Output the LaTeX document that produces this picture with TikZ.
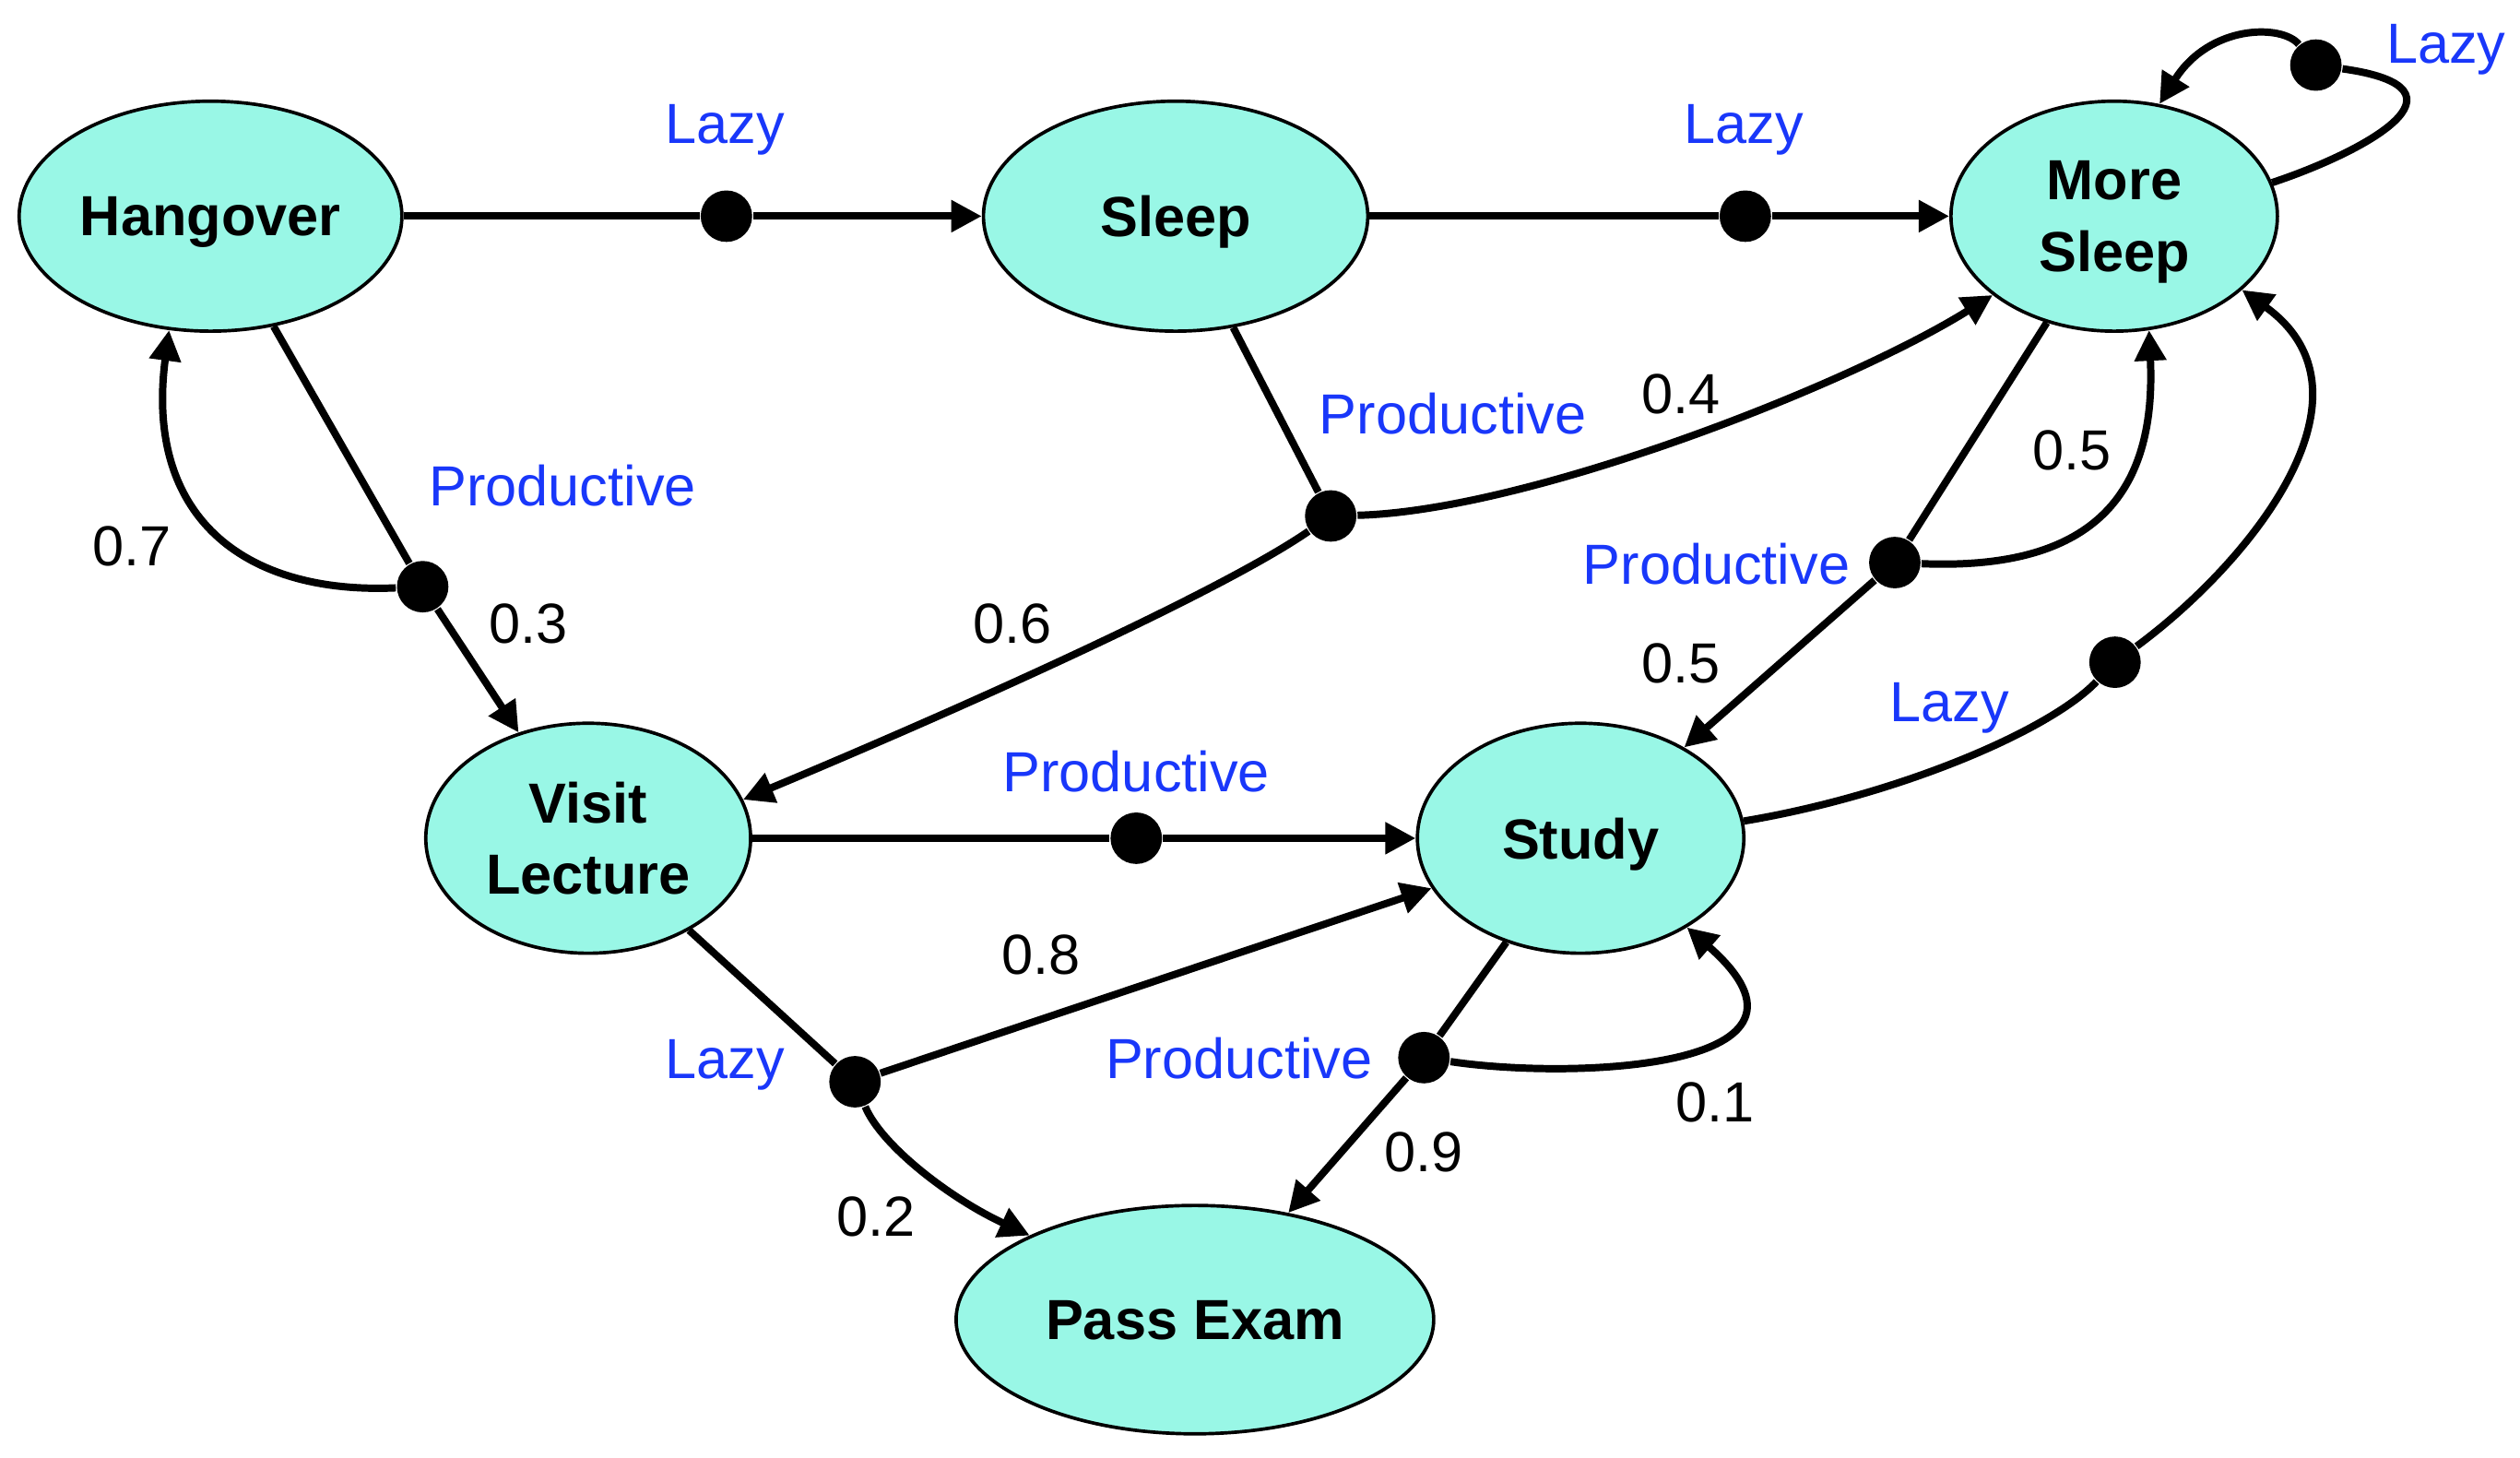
\documentclass[tikz,border=0pt]{standalone}
\usepackage{fontspec}
\setmainfont{Liberation Sans}
\usetikzlibrary{shapes.geometric,arrows.meta}
\definecolor{nodefill}{HTML}{99F7E6}
\definecolor{lblue}{RGB}{25,55,250}
\begin{document}
\begin{tikzpicture}[x=0.01cm,y=-0.01cm,
  state/.style={ellipse, draw=black, line width=0.6pt, fill=nodefill, inner sep=0pt, align=center, text depth=0pt, font=\fontsize{10}{12.6}\selectfont\bfseries},
  dot/.style={circle, fill=black, inner sep=0pt, minimum size=0.32cm},
  edge/.style={line width=1.3pt},
  arr/.style={line width=1.3pt, -{Triangle[length=5.4pt,width=5.4pt]}},
  act/.style={text=lblue, font=\fontsize{10}{12}\selectfont, inner sep=0pt, text depth=0pt},
  prob/.style={text=black, font=\fontsize{10}{12}\selectfont, inner sep=0pt}]
\useasboundingbox (0,0) rectangle (1568,907);

% states
\node[state, minimum width=2.38cm, minimum height=1.43cm] (hang) at (131,134.5) {Hangover};
\node[state, minimum width=2.39cm, minimum height=1.43cm] (sleep) at (731.5,134.5) {Sleep};
\node[state, minimum width=2.03cm, minimum height=1.43cm] (ms) at (1315.5,134.5) {More\\Sleep};
\node[state, minimum width=2.02cm, minimum height=1.43cm] (vl) at (366,521.5) {Visit\\Lecture};
\node[state, minimum width=2.03cm, minimum height=1.43cm] (study) at (983.5,521.5) {Study};
\node[state, minimum width=2.97cm, minimum height=1.42cm] (pe) at (743.5,821) {Pass Exam};

% action dots
\node[dot] (d1) at (452,134.5) {};
\node[dot] (d2) at (1086,134.5) {};
\node[dot] (d3) at (1441,40.5) {};
\node[dot] (d4) at (263,365) {};
\node[dot] (d5) at (828,321) {};
\node[dot] (d6) at (1179,350) {};
\node[dot] (d7) at (1316,412) {};
\node[dot] (d8) at (707,521.5) {};
\node[dot] (d9) at (532,673) {};
\node[dot] (d10) at (886,658) {};

% connectors
\draw[edge] (hang) -- (d1);
\draw[arr] (d1) -- (sleep);
\draw[edge] (sleep) -- (d2);
\draw[arr] (d2) -- (ms);
\draw[edge] (ms.12) .. controls (1470,95) and (1545,55) .. (d3);
\draw[arr] (d3) .. controls (1420,15) and (1375,15) .. (ms.68);
\draw[edge] (hang) -- (d4);
\draw[arr] (d4) -- (vl);
\draw[arr] (d4) .. controls (150,370) and (90,320) .. (hang.250);
\draw[edge] (sleep) -- (d5);
\draw[arr] (d5) .. controls (950,318) and (1150,240) .. (ms.213);
\draw[arr] (d5) .. controls (760,368) and (600,440) .. (vl.14);
\draw[edge] (ms) -- (d6);
\draw[arr] (d6) .. controls (1300,355) and (1342,310) .. (ms.287);
\draw[arr] (d6) -- (study);
\draw[edge] (study.6) .. controls (1180,495) and (1275,455) .. (d7);
\draw[arr] (d7) .. controls (1400,350) and (1485,245) .. (ms.330);
\draw[edge] (vl) -- (d8);
\draw[arr] (d8) -- (study);
\draw[edge] (vl) -- (d9);
\draw[arr] (d9) -- (study);
\draw[arr] (d9) .. controls (548,712) and (590,745) .. (pe.153);
\draw[edge] (study) -- (d10);
\draw[arr] (d10) -- (pe);
\draw[arr] (d10) .. controls (980,672) and (1150,665) .. (study.320);

% action labels
\node[act] (la1) at (451,77) {Lazy};
\node[act] (la2) at (1085,77) {Lazy};
\node[act] (la3) at (1522,27) {Lazy};
\node[act] (la4) at (1213,437) {Lazy};
\node[act] (la5) at (451,659) {Lazy};
\node[act] (lp1) at (350,302) {Productive};
\node[act] (lp2) at (904,257) {Productive};
\node[act] (lp3) at (1068,351) {Productive};
\node[act] (lp4) at (707,480) {Productive};
\node[act] (lp5) at (771,658) {Productive};

% probabilities
\node[prob] (p07) at (82,340) {0.7};
\node[prob] (p03) at (329,388) {0.3};
\node[prob] (p04) at (1046,245) {0.4};
\node[prob] (p05a) at (1289,280) {0.5};
\node[prob] (p06) at (630,388) {0.6};
\node[prob] (p05b) at (1046,413) {0.5};
\node[prob] (p08) at (648,594) {0.8};
\node[prob] (p01) at (1067,686) {0.1};
\node[prob] (p09) at (886,717) {0.9};
\node[prob] (p02) at (545,757) {0.2};
\end{tikzpicture}
\end{document}
